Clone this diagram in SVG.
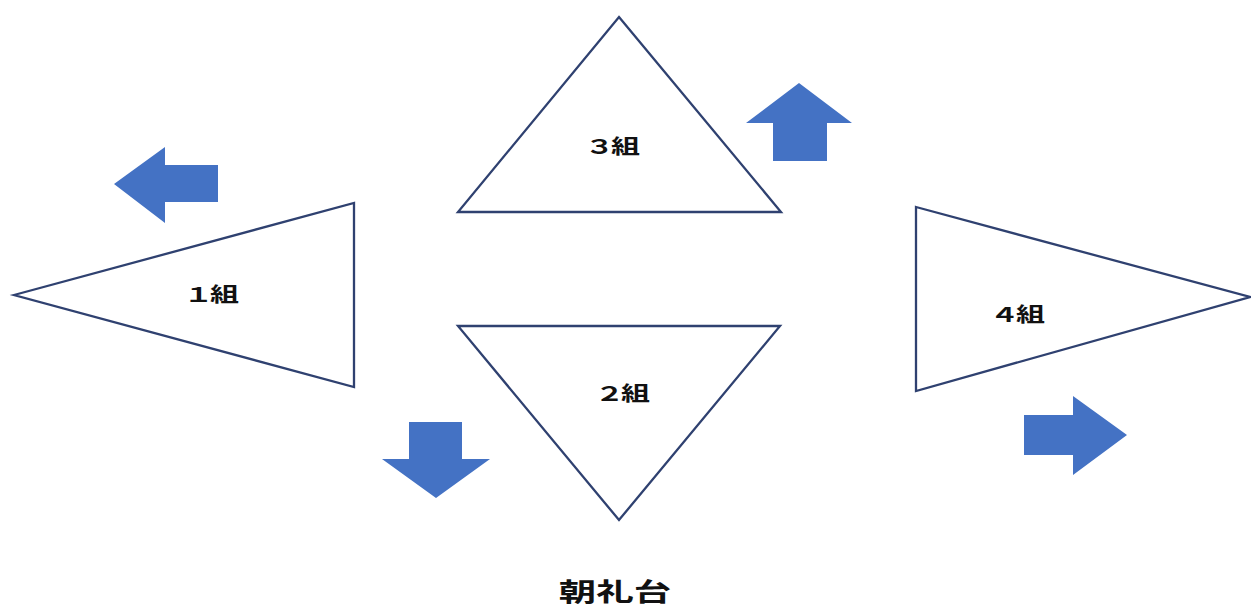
<svg xmlns="http://www.w3.org/2000/svg" width="1251" height="607" viewBox="0 0 1251 607">
<style>
.tri{fill:#ffffff;stroke:#2f4170;stroke-width:2.3;stroke-linejoin:miter}
.arr{fill:#4472c4;stroke:none}
.lbl{font-family:"Noto Sans CJK JP","Noto Sans CJK SC",sans-serif;font-weight:bold;font-size:20px;fill:#111111;text-anchor:middle;letter-spacing:-2px}
.ttl{font-family:"Noto Sans CJK JP","Noto Sans CJK SC",sans-serif;font-weight:bold;font-size:25px;fill:#111111;text-anchor:middle}
</style>
<rect width="1251" height="607" fill="#ffffff"/>
<g id="group1">
<polygon class="tri" points="14,295 354,203 354,387"/>
<text class="lbl" transform="translate(210,302) scale(1.45,1)">１組</text>
</g>
<g id="group3">
<polygon class="tri" points="619,17 781,212 458,212"/>
<text class="lbl" transform="translate(611,154) scale(1.45,1)">３組</text>
</g>
<g id="group2">
<polygon class="tri" points="458,326 780,326 619,520"/>
<text class="lbl" transform="translate(621,401) scale(1.45,1)">２組</text>
</g>
<g id="group4">
<polygon class="tri" points="916,207 1250,297 916,391"/>
<text class="lbl" transform="translate(1016,322) scale(1.45,1)">４組</text>
</g>
<g id="stage">
<text class="ttl" transform="translate(615,601) scale(1.5,1)">朝礼台</text>
</g>
<g id="connectors">
<polygon class="arr" points="114,184 165,147 165,165 218,165 218,202 165,202 165,223"/>
<polygon class="arr" points="799,83 852,123 827,123 827,161 773,161 773,123 746,123"/>
<polygon class="arr" points="436,498 382,459 409,459 409,422 462,422 462,459 490,459"/>
<polygon class="arr" points="1127,435 1073,396 1073,415 1024,415 1024,455 1073,455 1073,475"/>
</g>
</svg>
